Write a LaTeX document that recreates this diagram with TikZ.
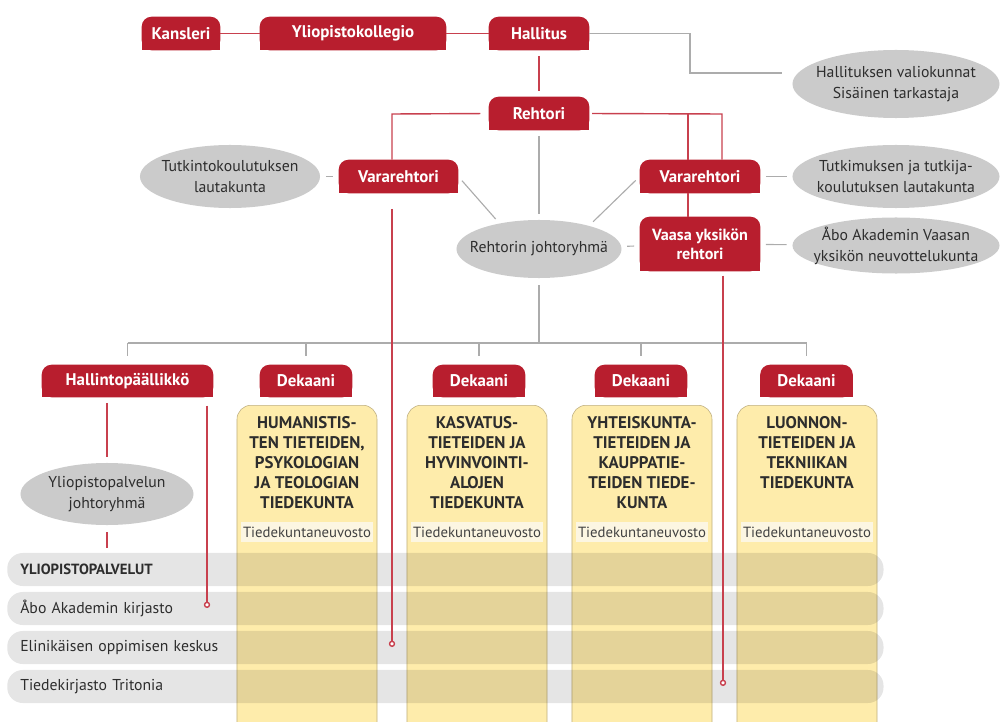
\documentclass[tikz,border=0pt]{standalone}
\usepackage{fontspec}
\setmainfont{PT Sans}
\usetikzlibrary{shapes.geometric,arrows.meta,backgrounds}
\definecolor{tabred}{RGB}{184,30,46}
\definecolor{linered}{RGB}{200,64,78}
\definecolor{linegray}{RGB}{172,172,172}
\definecolor{ellgray}{RGB}{203,203,203}
\definecolor{facyellow}{RGB}{254,236,171}
\definecolor{facline}{RGB}{190,174,128}
\definecolor{cream}{RGB}{252,246,226}
\definecolor{ink}{RGB}{45,45,45}
\begin{document}
\begin{tikzpicture}
[x=0.025cm, y=-0.025cm,
 tab/.style={text=white, inner sep=0pt, minimum height=.825cm, font=\bfseries\fontsize{12}{14}\selectfont},
 ell/.style={ellipse, fill=ellgray, text=ink, align=center, inner xsep=-10pt, inner ysep=0pt, font=\fontsize{11.2}{15}\selectfont},
 facbox/.style={anchor=north, draw=facline, fill=facyellow, rounded corners=10pt, minimum width=3.5cm, minimum height=8.5cm, inner sep=0pt},
 factitle/.style={anchor=north, yshift=-8pt, align=center, text=ink, inner sep=0pt, font=\bfseries\fontsize{12}{14.2}\selectfont},
 council/.style={fill=cream, text=ink!90, minimum width=3.3cm, minimum height=.5cm, inner sep=0pt, font=\fontsize{10.5}{13}\selectfont},
 rowbox/.style={anchor=west, fill=black, fill opacity=.1, text opacity=1, text=ink, rounded corners=11pt, minimum height=.825cm, text width=21.25cm, inner xsep=.325cm, inner ysep=0pt, align=left, font=\fontsize{11.2}{13}\selectfont},
 redline/.style={linered, line width=1pt},
 grayline/.style={linegray, line width=.8pt},
 gap/.style={shorten <=4pt, shorten >=4pt},
 dot/.style={-{Circle[open, length=4.5pt, fill=white]}}]
\useasboundingbox (0,0) rectangle (1001,722);

\foreach \n/\x in {1/307,2/477,3/642,4/807}{
  \node[facbox] (fac\n) at (\x,405) {};
  \node[council] (neuvosto\n) at (\x,532) {Tiedekuntaneuvosto};
}
\node[factitle] (title1) at (fac1.north) {HUMANISTIS-\\TEN TIETEIDEN,\\PSYKOLOGIAN\\JA TEOLOGIAN\\TIEDEKUNTA};
\node[factitle] (title2) at (fac2.north) {KASVATUS-\\TIETEIDEN JA\\HYVINVOINTI-\\ALOJEN\\TIEDEKUNTA};
\node[factitle] (title3) at (fac3.north) {YHTEISKUNTA-\\TIETEIDEN JA\\KAUPPATIE-\\TEIDEN TIEDE-\\KUNTA};
\node[factitle] (title4) at (fac4.north) {LUONNON-\\TIETEIDEN JA\\TEKNIIKAN\\TIEDEKUNTA};

\node[rowbox] (row1) at (7,569.5) {\bfseries\fontsize{10.5}{13}\selectfont YLIOPISTOPALVELUT};
\node[rowbox] (row2) at (7,608.5) {Åbo Akademin kirjasto};
\node[rowbox] (row3) at (7,647.5) {Elinikäisen oppimisen keskus};
\node[rowbox] (row4) at (7,686.5) {Tiedekirjasto Tritonia};

\node[tab, minimum width=1.95cm] (kansleri) at (181,33.5) {Kansleri};
\node[tab, minimum width=4.65cm] (kollegio) at (353,33.5) {Yliopistokollegio};
\node[tab, minimum width=2.5cm] (hallitus) at (539,33.5) {Hallitus};
\node[tab, minimum width=2.5cm] (rehtori) at (539,113.5) {Rehtori};
\node[tab, minimum width=2.975cm] (vr1) at (398.5,176.5) {Vararehtori};
\node[tab, minimum width=3cm] (vr2) at (700,176.5) {Vararehtori};
\node[tab, minimum width=3cm, minimum height=1.35cm, align=center, font=\bfseries\fontsize{11.5}{13.5}\selectfont] (vaasa) at (700,244) {Vaasa yksikön\\rehtori};
\node[tab, minimum width=4.275cm, minimum height=.8cm] (hallinto) at (127.5,381) {Hallintopäällikkö};
\foreach \n/\x in {1/306,2/479,3/641,4/806.5}
  \node[tab, minimum width=2.3cm, minimum height=.8cm] (dek\n) at (\x,381) {Dekaani};

\node[ell, minimum width=5.175cm, minimum height=1.7cm] (valiokunnat) at (896,84) {Hallituksen valiokunnat\\Sisäinen tarkastaja};
\node[ell, minimum width=4.5cm, minimum height=1.575cm] (tutkinto) at (230,176.5) {Tutkintokoulutuksen\\lautakunta};
\node[ell, minimum width=5.175cm, minimum height=1.575cm] (tutkimus) at (896,176.5) {Tutkimuksen ja tutkija-\\koulutuksen lautakunta};
\node[ell, minimum width=5.175cm, minimum height=1.4cm] (neuvottelu) at (896,245.5) {Åbo Akademin Vaasan\\yksikön neuvottelukunta};
\node[ell, minimum width=4.125cm, minimum height=1.45cm] (johto) at (539,249) {Rehtorin johtoryhmä};
\node[ell, minimum width=4.325cm, minimum height=1.55cm] (palvjohto) at (107,494) {Yliopistopalvelun\\johtoryhmä};

\begin{scope}[on background layer]
\foreach \t in {kansleri,kollegio,hallitus,rehtori,vr1,vr2,vaasa,hallinto,dek1,dek2,dek3,dek4}{
  \fill[tabred, rounded corners=7pt] (\t.south west) rectangle (\t.north east);
  \fill[tabred] (\t.south west) rectangle (\t.east);
}
\end{scope}

\coordinate (hallbend) at (690,73);
\coordinate (leftbend) at (392,114);
\coordinate (vaasabend) at (688,114);
\coordinate (rightbend) at (722,114);
\coordinate (bus) at (539,343);
\coordinate (kirjasto) at (207,608);
\coordinate (keskus) at (392,647);
\coordinate (tritonia) at (723,686);

\draw[grayline, shorten >=7pt] (hallitus.east) -| (hallbend) -- (hallbend -| valiokunnat.west);
\draw[grayline, gap] (rehtori) -- (johto);
\draw[grayline, gap] (vr1.east) -- (johto.147);
\draw[grayline, gap] (vr2.west) -- (johto.25);
\draw[grayline, gap] (tutkinto) -- (vr1);
\draw[grayline, gap] (vr2) -- (tutkimus);
\draw[grayline, gap] (vaasa) -- (neuvottelu);
\draw[grayline, gap] (johto) -- (vaasa);
\draw[grayline, shorten <=5pt] (johto.south) -- (bus);
\draw[grayline] (bus -| hallinto) -- (bus -| dek4);
\foreach \t in {hallinto,dek1,dek2,dek3,dek4}
  \draw[grayline, shorten >=6pt] (bus -| \t) -- (\t.north);

\draw[redline] (kansleri) -- (kollegio);
\draw[redline] (kollegio) -- (hallitus);
\draw[redline, gap] (hallitus) -- (rehtori);
\draw[redline, shorten <=6pt] (rehtori.west) -- (leftbend) -- (leftbend |- vr1.north);
\draw[redline, shorten <=2pt] (rehtori.east) -- (rightbend) -- (rightbend |- vr2.north);
\draw[redline] (vaasabend) -- (vaasabend |- vr2.north);
\draw[redline] (vaasabend |- vr2.south) -- (vaasabend |- vaasa.north);
\draw[redline, dot, shorten <=11pt] (leftbend |- vr1.south) -- (keskus);
\draw[redline, dot, shorten <=3pt] (vaasa.south -| tritonia) -- (tritonia);
\draw[redline, dot, shorten <=6pt] (hallinto.south -| kirjasto) -- (kirjasto);
\draw[redline, gap] (hallinto.south -| palvjohto) -- (palvjohto.north);
\draw[redline, shorten <=5pt, shorten >=3.5pt] (palvjohto.south) -- (palvjohto.south |- row1.north);
\end{tikzpicture}
\end{document}
